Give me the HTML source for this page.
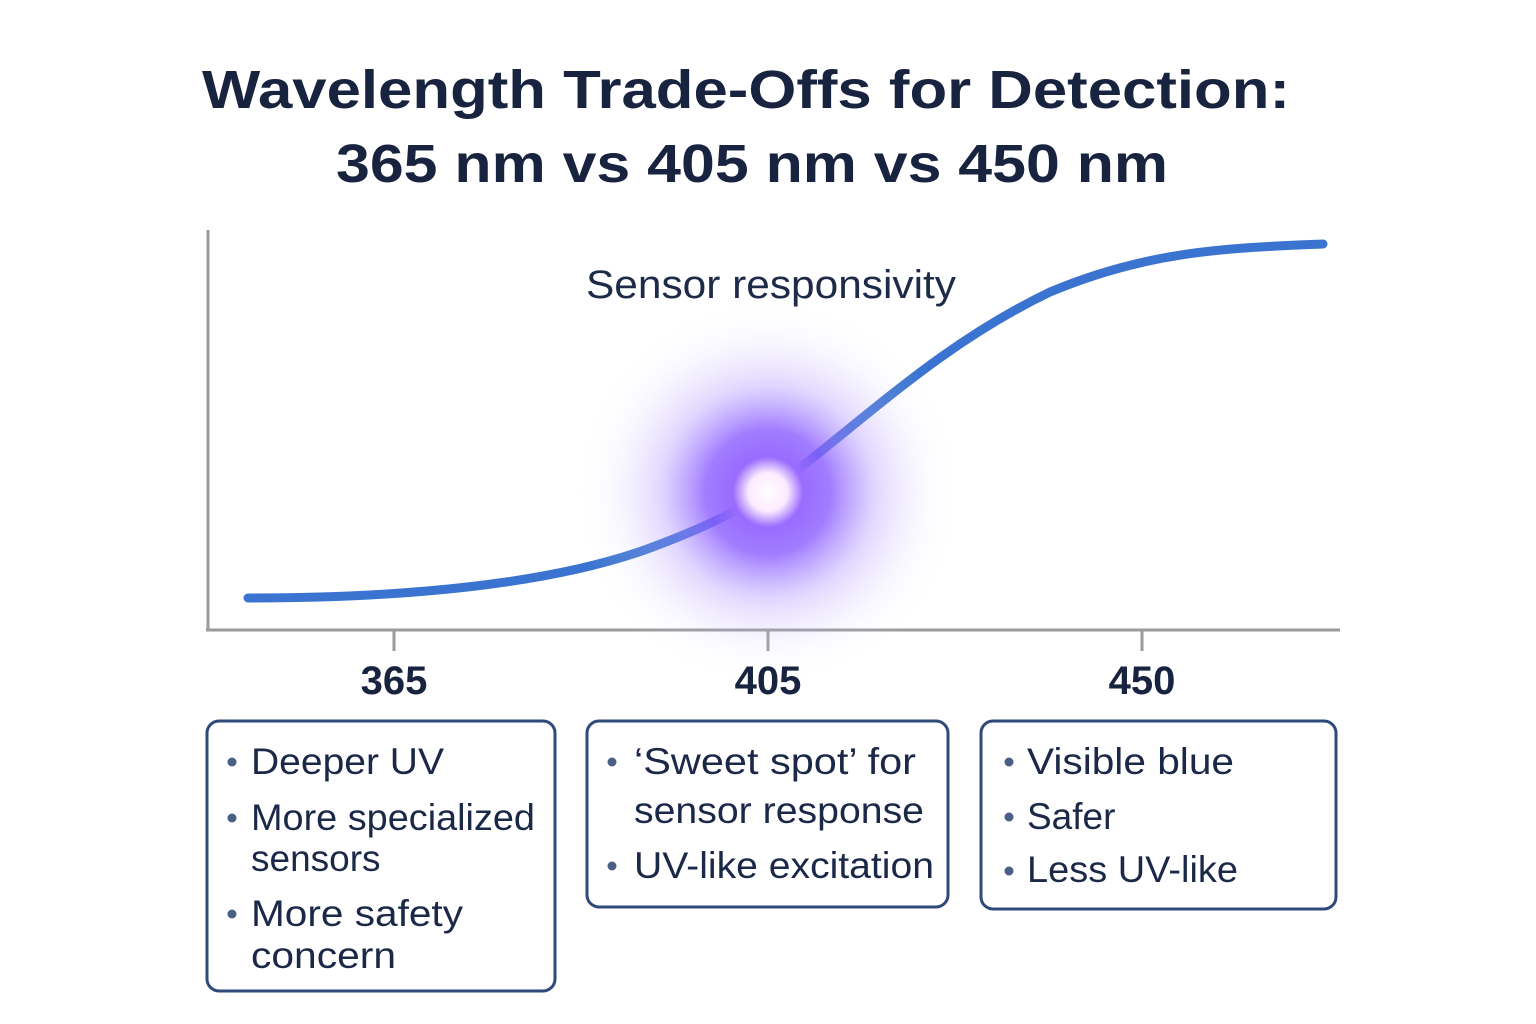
<!DOCTYPE html>
<html><head><style>
html,body{margin:0;padding:0;background:#fff;}
svg{display:block;}
</style></head><body>
<svg width="1536" height="1024" viewBox="0 0 1536 1024" xmlns="http://www.w3.org/2000/svg">
<defs>
<radialGradient id="glow" cx="0.5" cy="0.5" r="0.5">
<stop offset="0" stop-color="#ffffff" stop-opacity="1"/>
<stop offset="0.1" stop-color="#fbeaff" stop-opacity="1"/>
<stop offset="0.18" stop-color="#9a6cff" stop-opacity="1"/>
<stop offset="0.32" stop-color="#8a5cff" stop-opacity="0.8"/>
<stop offset="0.55" stop-color="#a88cff" stop-opacity="0.35"/>
<stop offset="0.8" stop-color="#d8ccff" stop-opacity="0.12"/>
<stop offset="1" stop-color="#ffffff" stop-opacity="0"/>
</radialGradient>
</defs>
<rect width="1536" height="1024" fill="#fff"/>
<g font-family="Liberation Sans, Arial, sans-serif" fill="#18233f">
<text x="202" y="108" font-size="54" font-weight="bold" textLength="1088" lengthAdjust="spacingAndGlyphs">Wavelength Trade-Offs for Detection:</text>
<text x="336" y="182" font-size="54" font-weight="bold" textLength="832" lengthAdjust="spacingAndGlyphs">365 nm vs 405 nm vs 450 nm</text>
</g>
<line x1="208" y1="230" x2="208" y2="631" stroke="#9a9a9a" stroke-width="3"/>
<line x1="206" y1="630" x2="1340" y2="630" stroke="#9a9a9a" stroke-width="3"/>
<line x1="394" y1="630" x2="394" y2="651" stroke="#9a9a9a" stroke-width="3"/>
<line x1="768" y1="630" x2="768" y2="651" stroke="#9a9a9a" stroke-width="3"/>
<line x1="1142" y1="630" x2="1142" y2="651" stroke="#9a9a9a" stroke-width="3"/>
<path d="M248,598 C400,598 550,585 650,548 C720,522 760,500 800,468 C880,405 950,340 1050,292 C1150,250 1230,248 1323,244" fill="none" stroke="#3a74d0" stroke-width="9" stroke-linecap="round"/>
<circle cx="768" cy="492" r="195" fill="url(#glow)"/>
<g font-family="Liberation Sans, Arial, sans-serif" fill="#18233f">
<text x="586" y="298" font-size="40" textLength="370" lengthAdjust="spacingAndGlyphs" fill="#1d2a48">Sensor responsivity</text>
<text x="394" y="694" font-size="40" font-weight="bold" text-anchor="middle">365</text>
<text x="768" y="694" font-size="40" font-weight="bold" text-anchor="middle">405</text>
<text x="1142" y="694" font-size="40" font-weight="bold" text-anchor="middle">450</text>
</g>
<rect x="207" y="721" width="348" height="270" rx="12" fill="none" stroke="#2e4a7a" stroke-width="3"/>
<rect x="587" y="721" width="361" height="186" rx="12" fill="none" stroke="#2e4a7a" stroke-width="3"/>
<rect x="981" y="721" width="355" height="188" rx="12" fill="none" stroke="#2e4a7a" stroke-width="3"/>
<g fill="#4a5f85">
<circle cx="232" cy="762" r="4.5"/><circle cx="232" cy="818" r="4.5"/><circle cx="232" cy="914" r="4.5"/>
<circle cx="612" cy="762" r="4.5"/><circle cx="612" cy="866" r="4.5"/>
<circle cx="1009" cy="762" r="4.5"/><circle cx="1009" cy="817" r="4.5"/><circle cx="1009" cy="871" r="4.5"/>
</g>
<g font-family="Liberation Sans, Arial, sans-serif" font-size="37" fill="#1b2848">
<text x="251" y="774" textLength="193" lengthAdjust="spacingAndGlyphs">Deeper UV</text>
<text x="251" y="830" textLength="284" lengthAdjust="spacingAndGlyphs">More specialized</text>
<text x="251" y="871">sensors</text>
<text x="251" y="926" textLength="212" lengthAdjust="spacingAndGlyphs">More safety</text>
<text x="251" y="968" textLength="145" lengthAdjust="spacingAndGlyphs">concern</text>
<text x="634" y="774" textLength="282" lengthAdjust="spacingAndGlyphs">‘Sweet spot’ for</text>
<text x="634" y="823" textLength="290" lengthAdjust="spacingAndGlyphs">sensor response</text>
<text x="634" y="878" textLength="300" lengthAdjust="spacingAndGlyphs">UV-like excitation</text>
<text x="1027" y="774" textLength="207" lengthAdjust="spacingAndGlyphs">Visible blue</text>
<text x="1027" y="829">Safer</text>
<text x="1027" y="882" textLength="211" lengthAdjust="spacingAndGlyphs">Less UV-like</text>
</g>
</svg>
</body></html>
